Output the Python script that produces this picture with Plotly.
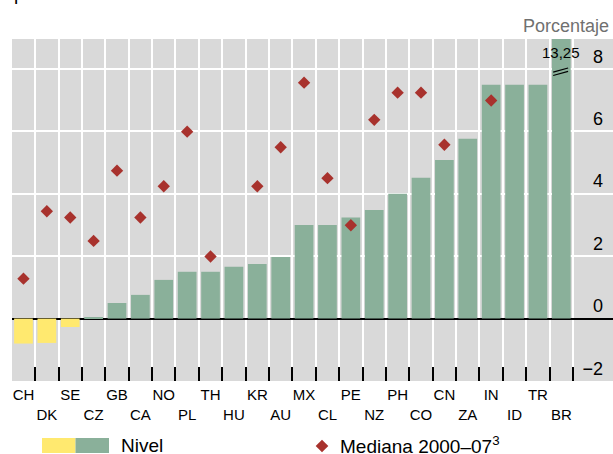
import plotly.graph_objects as go

# Country codes, ordered by the level of the real policy rate
paises = ["CH", "DK", "SE", "CZ", "GB", "CA", "NO", "PL", "TH", "HU", "KR", "AU",
          "MX", "CL", "PE", "NZ", "PH", "CO", "CN", "ZA", "IN", "ID", "TR", "BR"]

# Current level (percent)
nivel = [-0.80, -0.78, -0.27, 0.05, 0.50, 0.76, 1.24, 1.50, 1.50, 1.66, 1.75, 1.97,
         3.00, 3.00, 3.24, 3.48, 4.00, 4.51, 5.08, 5.76, 7.49, 7.49, 7.49, 13.25]

# Median 2000-07 (percent); None where not available
mediana = [1.28, 3.44, 3.24, 2.49, 4.74, 3.24, 4.24, 5.99, 1.99, None, 4.24, 5.49,
           7.56, 4.50, 2.99, 6.37, 7.24, 7.24, 5.57, None, 6.99, None, None, None]

y_ticks = [-2, 0, 2, 4, 6, 8]
y_tick_text = ["\u22122", "0", "2", "4", "6", "8"]

VERDE = "#8ab09a"
AMARILLO = "#ffe96f"
ROJO = "#a8322d"
GRIS = "#d9d9d9"

W, H = 613, 454
M_L, M_R, M_T, M_B = 12, 0, 39, 73
PW, PH = W - M_L - M_R, H - M_T - M_B
Y_MAX = 8.96


def px(x):
    return (x - M_L) / PW


def py(y):
    return (H - M_B - y) / PH


colores = [AMARILLO if v < 0 else VERDE for v in nivel]
etiquetas = [("<br>" + p) if i % 2 else p for i, p in enumerate(paises)]

fig = go.Figure()
fig.add_trace(go.Bar(x=paises, y=nivel, marker=dict(color=colores, line=dict(width=0)),
                     width=0.8, name="Nivel", showlegend=False, hoverinfo="x+y"))
fig.add_trace(go.Scatter(x=paises, y=mediana, mode="markers",
                         marker=dict(symbol="diamond", size=9.5, color=ROJO,
                                     line=dict(width=0)),
                         name="Mediana 2000–07", showlegend=False))

# Value label and axis-break marks for the clipped bar
i_br = paises.index("BR")
fig.add_annotation(x=i_br, y=8.52, xref="x", yref="y",
                   text=f"{nivel[i_br]:.2f}".replace(".", ","), showarrow=False,
                   font=dict(size=15, color="black"))
for y0, y1 in [(7.90, 8.03), (7.79, 7.92)]:
    fig.add_shape(type="line", xref="x", yref="y", x0=i_br - 0.35, x1=i_br + 0.29,
                  y0=y0, y1=y1, line=dict(color="black", width=1.2))

# Unit label and (partly hidden) heading
fig.add_annotation(x=px(611), y=py(26), xref="paper", yref="paper", xanchor="right",
                   yanchor="middle", text="Porcentaje", showarrow=False,
                   font=dict(size=18, color="#707070"))
fig.add_annotation(x=px(12), y=py(6), xref="paper", yref="paper", xanchor="left",
                   yanchor="bottom", text="patrones históricos", showarrow=False,
                   font=dict(size=19, color="black"))

# Legend: two-colour swatch for the level, diamond for the median
fig.add_shape(type="rect", xref="paper", yref="paper", x0=px(42), x1=px(75.5),
              y0=py(453), y1=py(438), fillcolor=AMARILLO, line=dict(width=0))
fig.add_shape(type="rect", xref="paper", yref="paper", x0=px(75.5), x1=px(109),
              y0=py(453), y1=py(438), fillcolor=VERDE, line=dict(width=0))
fig.add_annotation(x=px(119), y=py(445), xref="paper", yref="paper", xanchor="left",
                   yanchor="middle", text="Nivel", showarrow=False,
                   font=dict(size=19, color="black"))
cx, cy, r = 322, 446, 6.3
fig.add_shape(type="path", xref="paper", yref="paper",
              path=(f"M {px(cx - r)} {py(cy)} L {px(cx)} {py(cy - r)} "
                    f"L {px(cx + r)} {py(cy)} L {px(cx)} {py(cy + r)} Z"),
              fillcolor=ROJO, line=dict(width=0))
fig.add_annotation(x=px(338), y=py(445), xref="paper", yref="paper", xanchor="left",
                   yanchor="middle", text="Mediana 2000–07<sup>3</sup>",
                   showarrow=False, font=dict(size=19, color="black"))

fig.update_layout(
    width=W, height=H,
    margin=dict(l=M_L, r=M_R, t=M_T, b=M_B, pad=0),
    paper_bgcolor="white", plot_bgcolor=GRIS,
    font=dict(family="Liberation Sans, Arial, sans-serif", color="black"),
    bargap=0.2, showlegend=False,
)
fig.update_xaxes(
    type="category", categoryorder="array", categoryarray=paises,
    tickmode="array", tickvals=paises, ticktext=etiquetas,
    range=[-0.49, 25.21], tickson="boundaries",
    ticks="inside", ticklen=14, tickwidth=1.5, tickcolor="black",
    showgrid=True, gridcolor="white", gridwidth=1.5, ticklabelstandoff=3,
    showline=False, zeroline=False, tickfont=dict(size=15), tickangle=0,
)
fig.update_yaxes(
    range=[-2, Y_MAX], side="right", tickmode="array",
    tickvals=y_ticks, ticktext=y_tick_text, ticklabelposition="inside top",
    ticklabelstandoff=7,
    ticks="", showgrid=True, gridcolor="white", gridwidth=1.5,
    zeroline=True, zerolinecolor="black", zerolinewidth=2,
    showline=False, tickfont=dict(size=18, color="black"),
)

fig.write_html("out.html")
